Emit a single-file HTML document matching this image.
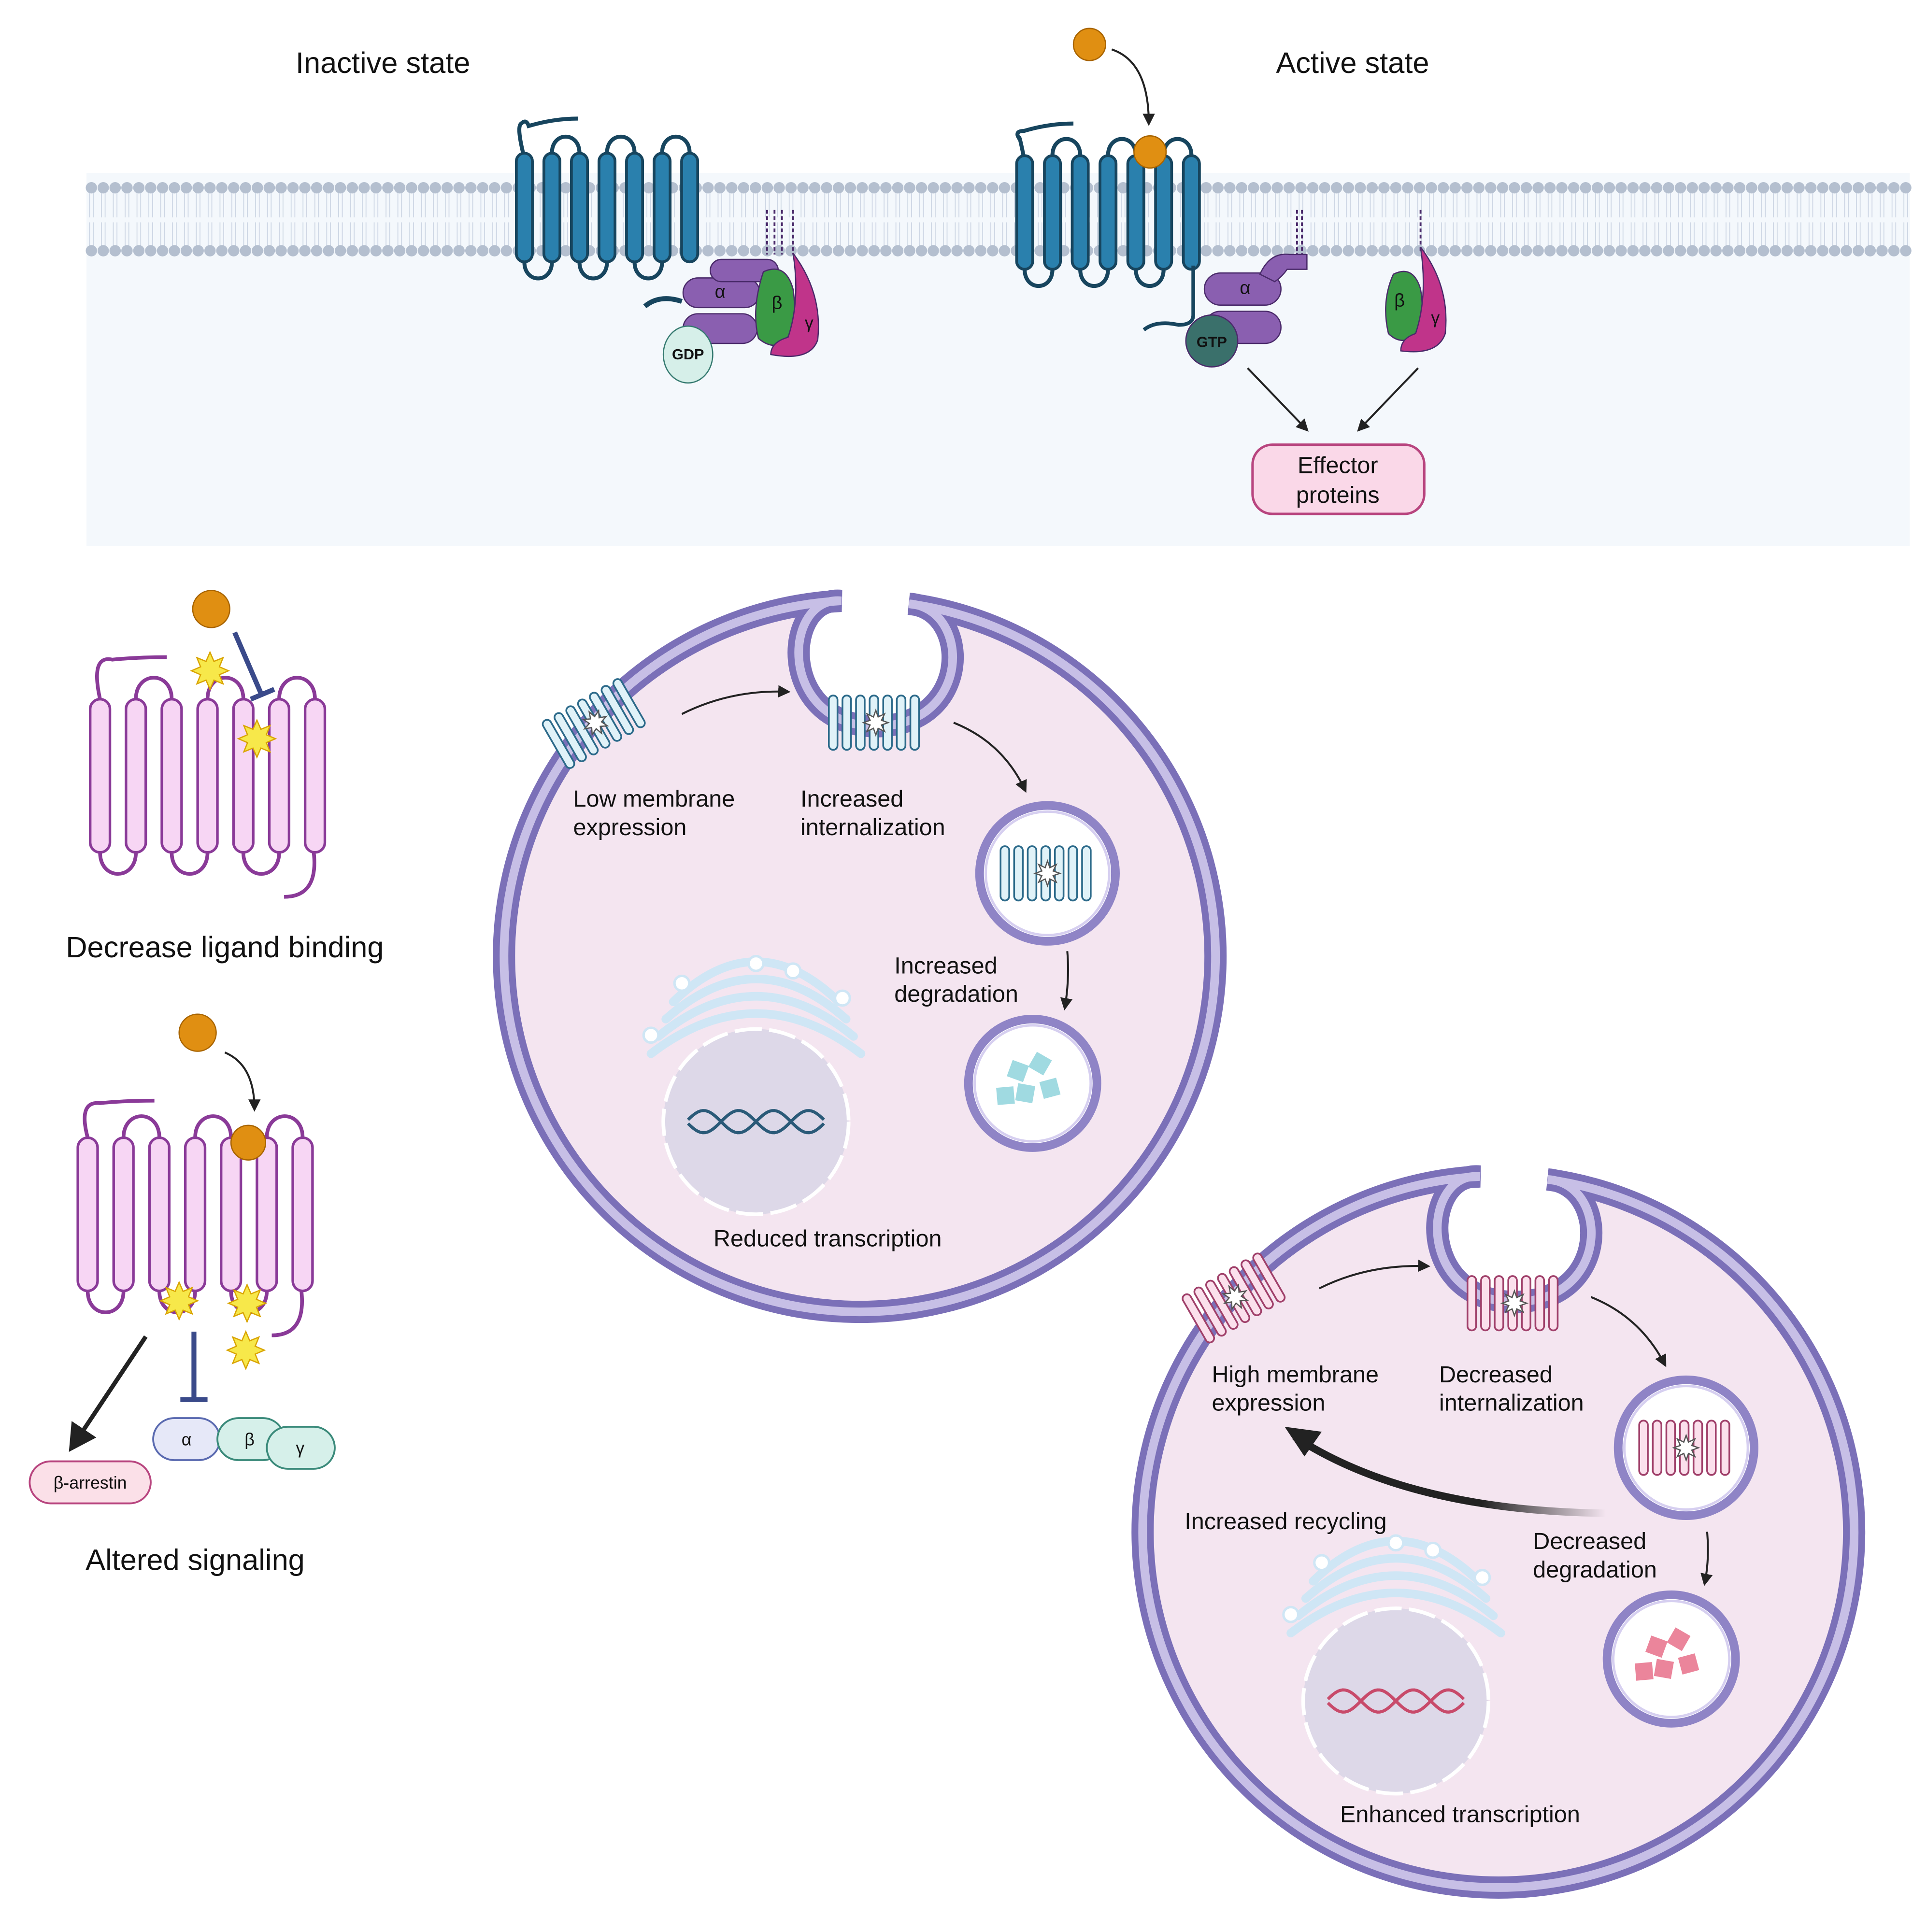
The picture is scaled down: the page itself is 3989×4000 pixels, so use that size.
<!DOCTYPE html>
<html><head><meta charset="utf-8"><style>
html,body{margin:0;padding:0;background:#fff;}
svg{display:block;}
text{font-family:"Liberation Sans",sans-serif;fill:#111;}
</style></head><body>
<svg id="s" width="3989" height="4000" viewBox="0 0 1560 1564" preserveAspectRatio="none" xmlns="http://www.w3.org/2000/svg">
<defs>
<marker id="ah" markerWidth="10" markerHeight="10" refX="8" refY="5" orient="auto" markerUnits="userSpaceOnUse"><path d="M0,0 L10,5 L0,10 Z" fill="#222"/></marker>
<marker id="ahb" markerWidth="24" markerHeight="24" refX="18" refY="12" orient="auto" markerUnits="userSpaceOnUse"><path d="M0,0 L22,12 L0,24 Z" fill="#222"/></marker>
<linearGradient id="rg" x1="1" y1="0" x2="0" y2="0"><stop offset="0" stop-color="#222" stop-opacity="0"/><stop offset="0.4" stop-color="#222"/></linearGradient>
<path id="cellp" d="M40,-285.2 A288,288 0 1 1 -15,-287.6 C-62,-292 -68,-188 12,-186 C92,-186 90,-282 40,-285.2 Z"/>
</defs>
<rect x="0" y="0" width="1560" height="1564" fill="#fff"/>
<rect x="70" y="140" width="1476" height="302" fill="#f4f8fc"/>
<g id="mem"></g>
<text x="310" y="59" font-size="24" text-anchor="middle">Inactive state</text>
<text x="1095" y="59" font-size="24" text-anchor="middle">Active state</text>
<g id="recs"></g>

<g stroke="#4a2a6a" stroke-width="1">
<rect x="553" y="225" width="62" height="24" rx="12" fill="#8a5fb0"/>
<rect x="553" y="254" width="60" height="24" rx="12" fill="#8a5fb0"/>
<rect x="575" y="210" width="55" height="18" rx="9" fill="#8a5fb0"/>
<path d="M618,220 q18,-8 24,14 q4,26 -6,42 q-10,8 -22,-2 q-6,-24 4,-54z" fill="#3a9a45"/>
<path d="M642,205 q24,32 20,70 q-6,18 -38,12 q0,-10 14,-14 q10,-30 4,-68z" fill="#c0348a"/>
<ellipse cx="557" cy="287" rx="20" ry="23" fill="#d6efe9" stroke="#357a70"/>
</g>
<path d="M522,248 q12,-10 30,-4" stroke="#17455e" stroke-width="4" fill="none"/>
<text x="583" y="241" font-size="15" text-anchor="middle" fill="#3a2150">α</text>
<text x="629" y="250" font-size="15" text-anchor="middle" fill="#1d4a22">β</text>
<text x="655" y="266" font-size="14" text-anchor="middle" fill="#5a1040">γ</text>
<text x="557" y="291" font-size="12" font-weight="bold" text-anchor="middle">GDP</text>
<path d="M621,170 v36 M627,170 v36 M633,170 v36 M642,170 v36" stroke="#4a2a6a" stroke-width="1.5" stroke-dasharray="3 2"/>

<g stroke="#4a2a6a" stroke-width="1">
<rect x="975" y="221" width="62" height="26" rx="13" fill="#8a5fb0"/>
<rect x="975" y="252" width="62" height="26" rx="13" fill="#8a5fb0"/>
<path d="M1020,222 q8,-18 24,-16 h14 v12 h-16 q-4,6 -10,10z" fill="#8a5fb0"/>
<circle cx="981" cy="276" r="21" fill="#3a706b"/>
<path d="M1128,222 q16,-8 22,12 q4,24 -4,38 q-12,8 -22,-2 q-6,-26 4,-48z" fill="#3a9a45"/>
<path d="M1150,200 q24,32 20,70 q-6,18 -36,14 q0,-10 12,-14 q10,-30 4,-70z" fill="#c0348a"/>
</g>
<path d="M1050,170 v36 M1054,170 v36 M1150,170 v34" stroke="#4a2a6a" stroke-width="1.5" stroke-dasharray="3 2"/>
<path d="M966,215 v40 q0,8 -12,8 q-18,-4 -28,4" stroke="#17455e" stroke-width="3" fill="none"/>
<text x="1008" y="238" font-size="15" text-anchor="middle" fill="#3a2150">α</text>
<text x="1133" y="248" font-size="15" text-anchor="middle" fill="#1d4a22">β</text>
<text x="1162" y="262" font-size="14" text-anchor="middle" fill="#5a1040">γ</text>
<text x="981" y="281" font-size="12" font-weight="bold" text-anchor="middle" fill="#fff">GTP</text>
<line x1="1010" y1="298" x2="1058" y2="348" stroke="#222" stroke-width="1.6" marker-end="url(#ah)"/>
<line x1="1148" y1="298" x2="1100" y2="348" stroke="#222" stroke-width="1.6" marker-end="url(#ah)"/>
<rect x="1014" y="360" width="139" height="56" rx="16" fill="#fad8e8" stroke="#b8457f" stroke-width="2"/>
<text x="1083" y="383" font-size="19" text-anchor="middle">Effector</text>
<text x="1083" y="407" font-size="19" text-anchor="middle">proteins</text>
<circle cx="882" cy="36" r="13" fill="#e08f12" stroke="#a86400"/>
<path d="M900,40 q30,10 30,60" stroke="#222" stroke-width="1.6" fill="none" marker-end="url(#ah)"/>
<circle cx="931" cy="123" r="13" fill="#e08f12" stroke="#a86400"/>

<text x="182" y="775" font-size="24" text-anchor="middle">Decrease ligand binding</text>
<text x="158" y="1271" font-size="24" text-anchor="middle">Altered signaling</text>
<circle cx="171" cy="493" r="15" fill="#e08f12" stroke="#a86400"/>
<line x1="190" y1="512" x2="212" y2="563" stroke="#3a4a8a" stroke-width="4"/>
<line x1="203" y1="566" x2="222" y2="558" stroke="#3a4a8a" stroke-width="4"/>
<circle cx="160" cy="836" r="15" fill="#e08f12" stroke="#a86400"/>
<path d="M182,852 q24,10 24,46" stroke="#222" stroke-width="1.6" fill="none" marker-end="url(#ah)"/>
<line x1="118" y1="1082" x2="58" y2="1172" stroke="#222" stroke-width="3.5" marker-end="url(#ahb)"/>
<line x1="157" y1="1078" x2="157" y2="1132" stroke="#3a4a8a" stroke-width="4"/>
<line x1="146" y1="1133" x2="168" y2="1133" stroke="#3a4a8a" stroke-width="4"/>
<rect x="24" y="1183" width="98" height="34" rx="17" fill="#fbe0e8" stroke="#b8457f" stroke-width="1.5"/>
<text x="73" y="1205" font-size="14" text-anchor="middle">β-arrestin</text>
<rect x="124" y="1148" width="54" height="34" rx="17" fill="#e6e8f8" stroke="#5a6ab0" stroke-width="1.5"/>
<rect x="176" y="1148" width="54" height="34" rx="17" fill="#d6f0ea" stroke="#3a8a7a" stroke-width="1.5"/>
<rect x="216" y="1155" width="55" height="34" rx="17" fill="#d6f0ea" stroke="#3a8a7a" stroke-width="1.5"/>
<text x="151" y="1170" font-size="14" text-anchor="middle">α</text>
<text x="202" y="1170" font-size="14" text-anchor="middle">β</text>
<text x="243" y="1177" font-size="14" text-anchor="middle">γ</text>

<g transform="translate(696,774)"><use href="#cellp" fill="#f4e5f0" stroke="#7b70b8" stroke-width="18"/><use href="#cellp" fill="none" stroke="#c7bfe6" stroke-width="7"/></g>
<g transform="translate(1213,1240)"><use href="#cellp" fill="#f4e5f0" stroke="#7b70b8" stroke-width="18"/><use href="#cellp" fill="none" stroke="#c7bfe6" stroke-width="7"/></g>
<g id="cellstuff"></g>
<text font-size="19"><tspan x="464" y="653">Low membrane</tspan><tspan x="464" y="676">expression</tspan></text>
<text font-size="19"><tspan x="648" y="653">Increased</tspan><tspan x="648" y="676">internalization</tspan></text>
<text font-size="19"><tspan x="724" y="788">Increased</tspan><tspan x="724" y="811">degradation</tspan></text>
<text x="670" y="1009" font-size="19" text-anchor="middle">Reduced transcription</text>
<text font-size="19"><tspan x="981" y="1119">High membrane</tspan><tspan x="981" y="1142">expression</tspan></text>
<text font-size="19"><tspan x="1165" y="1119">Decreased</tspan><tspan x="1165" y="1142">internalization</tspan></text>
<text x="959" y="1238" font-size="19">Increased recycling</text>
<text font-size="19"><tspan x="1241" y="1254">Decreased</tspan><tspan x="1241" y="1277">degradation</tspan></text>
<text x="1182" y="1475" font-size="19" text-anchor="middle">Enhanced transcription</text>
<path d="M552,578 q40,-20 86,-18" stroke="#222" stroke-width="1.6" fill="none" marker-end="url(#ah)"/>
<path d="M772,585 q40,16 58,55" stroke="#222" stroke-width="1.6" fill="none" marker-end="url(#ah)"/>
<path d="M864,770 q2,22 -2,46" stroke="#222" stroke-width="1.6" fill="none" marker-end="url(#ah)"/>
<path d="M1068,1043 q40,-20 88,-18" stroke="#222" stroke-width="1.6" fill="none" marker-end="url(#ah)"/>
<path d="M1288,1050 q40,16 60,55" stroke="#222" stroke-width="1.6" fill="none" marker-end="url(#ah)"/>
<path d="M1382,1240 q2,22 -2,42" stroke="#222" stroke-width="1.6" fill="none" marker-end="url(#ah)"/>
<path d="M1300,1225 q-160,-2 -252,-62" stroke="url(#rg)" stroke-width="6" fill="none"/>
<path d="M1040,1155 l30,4 l-14,20 z" fill="#222"/>
</svg>
<script>
const NS="http://www.w3.org/2000/svg";
function el(p,t,a){const e=document.createElementNS(NS,t);for(const k in a)e.setAttribute(k,a[k]);p.appendChild(e);return e;}
const mem=document.getElementById('mem');
for(let x=74;x<1545;x+=9.6){
 el(mem,'path',{d:`M${x-1.5},156 L${x-1.5},176 M${x+1.5},156 L${x+1.5},176 M${x-1.5},180 L${x-1.5},199 M${x+1.5},180 L${x+1.5},199`,stroke:'#cdd6e4','stroke-width':0.7});
 el(mem,'circle',{cx:x,cy:152,r:4.6,fill:'#b4bfcf'});
 el(mem,'circle',{cx:x,cy:203,r:4.6,fill:'#b4bfcf'});
}
function rec(g,x0,y0,y1,n,w,pitch,fill,stroke,sw,tail){
 for(let i=0;i<n-1;i++){const a=x0+i*pitch+w/2,b=a+pitch,top=(i%2==1);
  const y=top?y0:y1,d=top?-1:1,h=pitch*0.8;
  el(g,'path',{d:`M${a},${y} C${a},${y+d*h} ${b},${y+d*h} ${b},${y}`,stroke:stroke,'stroke-width':sw,fill:'none'});}
 if(tail)el(g,'path',{d:tail,stroke:stroke,'stroke-width':sw,fill:'none'});
 for(let i=0;i<n;i++)el(g,'rect',{x:x0+i*pitch,y:y0,width:w,height:y1-y0,rx:w/2,fill:fill,stroke:stroke,'stroke-width':sw*0.7});
}
const R=document.getElementById('recs');
rec(R,418,124,212,7,13,22.3,'#2a80ad','#17455e',3.2,'M424,126 q-6,-24 -2,-26 q4,-4 6,2 q20,-6 40,-6');
rec(R,823,126,218,7,13,22.5,'#2a80ad','#17455e',3.2,'M829,128 q-4,-20 -4,-16 q-4,-6 4,-6 q20,-6 40,-6');
rec(R,73,566,690,7,16,29,'#f7d6f4','#8a3a98',3,'M81,566 q-8,-36 10,-32 q20,-2 44,-2 M254,690 q4,36 -24,36');
rec(R,63,921,1045,7,16,29,'#f7d6f4','#8a3a98',3,'M71,921 q-8,-30 10,-28 q20,-2 44,-2 M244,1045 q4,36 -24,36');
function star(cx,cy,r){let d='';for(let i=0;i<16;i++){const a=i*Math.PI/8,rr=i%2?r*0.55:r;d+=(i?'L':'M')+(cx+rr*Math.cos(a)).toFixed(1)+','+(cy+rr*Math.sin(a)).toFixed(1);}el(R,'path',{d:d+'Z',fill:'#f7e84a',stroke:'#d9a400','stroke-width':1});}
star(170,543,15);star(208,598,15);star(145,1053,15);star(200,1055,15);star(199,1093,15);
el(R,'circle',{cx:201,cy:925,r:14,fill:'#e08f12',stroke:'#a86400'});
const C=document.getElementById('cellstuff');
function minirec(x,y,rot,fill,stroke){const g=el(C,'g',{transform:`translate(${x},${y}) rotate(${rot})`});
 for(let i=0;i<7;i++)el(g,'rect',{x:-38+i*11,y:-22,width:7,height:44,rx:3.5,fill:fill,stroke:stroke,'stroke-width':1.4});
 star2(g,0,0);}
function star2(g,cx,cy){let d='';for(let i=0;i<16;i++){const a=i*Math.PI/8,rr=i%2?5:10;d+=(i?'L':'M')+(cx+rr*Math.cos(a)).toFixed(1)+','+(cy+rr*Math.sin(a)).toFixed(1);}el(g,'path',{d:d+'Z',fill:'#fff',stroke:'#555','stroke-width':1});}
minirec(482,585,-30,'#e0f2f8','#2c6a8a');minirec(709,585,0,'#e0f2f8','#2c6a8a');
minirec(1000,1050,-30,'#fbe0ec','#a0406a');minirec(1226,1055,0,'#fbe0ec','#a0406a');
function ves(cx,cy,r){el(C,'circle',{cx,cy,r,fill:'#fff',stroke:'#8f84c6','stroke-width':7});el(C,'circle',{cx,cy,r:r-5,fill:'none',stroke:'#d6cff0','stroke-width':2});}
ves(848,707,55);ves(836,877,52);ves(1365,1172,55);ves(1353,1343,52);
minirec(848,707,0,'#e0f2f8','#2c6a8a');minirec(1365,1172,0,'#fbe0ec','#a0406a');
function frags(cx,cy,col){[[-12,-10,20],[6,-16,30],[14,4,-15],[-6,8,10],[-22,10,-5]].forEach(f=>el(C,'rect',{x:cx+f[0]-7,y:cy+f[1]-7,width:14,height:14,fill:col,transform:`rotate(${f[2]} ${cx+f[0]} ${cy+f[1]})`,opacity:0.85}));}
frags(836,877,'#8fd3dc');frags(1353,1343,'#e8708a');
function nuc(cx,cy,col){
 for(let k=0;k<4;k++)el(C,'path',{d:`M${cx-85+k*6},${cy-55-k*14} Q${cx},${cy-120-k*14} ${cx+85-k*6},${cy-55-k*14}`,stroke:'#cfe6f5','stroke-width':7,fill:'none','stroke-linecap':'round'});
 [[-85,-70],[-60,-112],[0,-128],[30,-122],[70,-100]].forEach(p=>el(C,'circle',{cx:cx+p[0],cy:cy+p[1],r:6,fill:'#fff',stroke:'#cfe6f5','stroke-width':2}));
 el(C,'circle',{cx,cy,r:75,fill:'#ddd8e8',stroke:'#fff','stroke-width':3,'stroke-dasharray':'22 6'});
 let d1='',d2='';for(let x=-55;x<=55;x+=2){const y=Math.sin(x/9)*9;d1+=(x==-55?'M':'L')+(cx+x)+','+(cy+y);d2+=(x==-55?'M':'L')+(cx+x)+','+(cy-y);}
 el(C,'path',{d:d1,stroke:col,'stroke-width':2.5,fill:'none'});el(C,'path',{d:d2,stroke:col,'stroke-width':2.5,fill:'none'});
}
nuc(612,908,'#2a5a78');nuc(1130,1377,'#c84a6a');
</script>
</body></html>
